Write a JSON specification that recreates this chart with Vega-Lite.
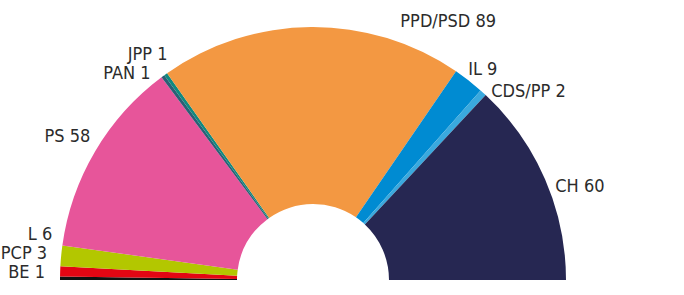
{
  "$schema": "https://vega.github.io/schema/vega-lite/v6.json",
  "autosize": {"type": "none"},
  "width": 626,
  "height": 30,
  "padding": {"left": 0, "top": 265, "right": 58, "bottom": 0},
  "background": "white",
  "config": {"view": {"stroke": null}},
  "data": {
    "values": [
      {"rank": 1, "party": "BE", "seats": 1, "label": "BE 1"},
      {"rank": 2, "party": "PCP", "seats": 3, "label": "PCP 3"},
      {"rank": 3, "party": "L", "seats": 6, "label": "L 6"},
      {"rank": 4, "party": "PS", "seats": 58, "label": "PS 58"},
      {"rank": 5, "party": "PAN", "seats": 1, "label": "PAN 1"},
      {"rank": 6, "party": "JPP", "seats": 1, "label": "JPP 1"},
      {"rank": 7, "party": "PPD/PSD", "seats": 89, "label": "PPD/PSD 89"},
      {"rank": 8, "party": "IL", "seats": 9, "label": "IL 9"},
      {"rank": 9, "party": "CDS/PP", "seats": 2, "label": "CDS/PP 2"},
      {"rank": 10, "party": "CH", "seats": 60, "label": "CH 60"}
    ]
  },
  "encoding": {
    "theta": {"field": "seats", "type": "quantitative", "stack": true, "scale": {"range": [-1.5707963, 1.5707963]}},
    "order": {"field": "rank", "type": "quantitative"}
  },
  "layer": [
    {
      "mark": {"type": "arc", "radius": 253, "radius2": 76, "stroke": null},
      "encoding": {
        "color": {
          "field": "party", "type": "nominal", "legend": null,
          "scale": {
            "domain": ["BE", "PCP", "L", "PS", "PAN", "JPP", "PPD/PSD", "IL", "CDS/PP", "CH"],
            "range": ["#111111", "#e30613", "#b3c700", "#e7559a", "#2b5f75", "#11897f", "#f39842", "#008bd2", "#3aa9de", "#262752"]
          }
        }
      }
    },
    {"mark": {"type": "text", "radius": 262, "align": "right", "baseline": "middle", "dx": -6, "dy": -5, "font": "Liberation Sans Narrow, DejaVu Sans Condensed, sans-serif", "fontSize": 18, "color": "#2b2b2b"},
     "encoding": {"text": {"condition": {"test": "datum.party === 'BE'", "field": "label"}, "value": ""}}},
    {"mark": {"type": "text", "radius": 262, "align": "right", "baseline": "middle", "dx": -4, "dy": -17, "font": "Liberation Sans Narrow, DejaVu Sans Condensed, sans-serif", "fontSize": 18, "color": "#2b2b2b"},
     "encoding": {"text": {"condition": {"test": "datum.party === 'PCP'", "field": "label"}, "value": ""}}},
    {"mark": {"type": "text", "radius": 262, "align": "right", "baseline": "middle", "dx": 0, "dy": -20, "font": "Liberation Sans Narrow, DejaVu Sans Condensed, sans-serif", "fontSize": 18, "color": "#2b2b2b"},
     "encoding": {"text": {"condition": {"test": "datum.party === 'L'", "field": "label"}, "value": ""}}},
    {"mark": {"type": "text", "radius": 262, "align": "right", "baseline": "middle", "dx": 3, "dy": -10, "font": "Liberation Sans Narrow, DejaVu Sans Condensed, sans-serif", "fontSize": 18, "color": "#2b2b2b"},
     "encoding": {"text": {"condition": {"test": "datum.party === 'PS'", "field": "label"}, "value": ""}}},
    {"mark": {"type": "text", "radius": 262, "align": "right", "baseline": "middle", "dx": -7, "dy": 5, "font": "Liberation Sans Narrow, DejaVu Sans Condensed, sans-serif", "fontSize": 18, "color": "#2b2b2b"},
     "encoding": {"text": {"condition": {"test": "datum.party === 'PAN'", "field": "label"}, "value": ""}}},
    {"mark": {"type": "text", "radius": 262, "align": "right", "baseline": "middle", "dx": 7, "dy": -12, "font": "Liberation Sans Narrow, DejaVu Sans Condensed, sans-serif", "fontSize": 18, "color": "#2b2b2b"},
     "encoding": {"text": {"condition": {"test": "datum.party === 'JPP'", "field": "label"}, "value": ""}}},
    {"mark": {"type": "text", "radius": 262, "align": "center", "baseline": "middle", "dx": 137, "dy": 4, "font": "Liberation Sans Narrow, DejaVu Sans Condensed, sans-serif", "fontSize": 18, "color": "#2b2b2b"},
     "encoding": {"text": {"condition": {"test": "datum.party === 'PPD/PSD'", "field": "label"}, "value": ""}}},
    {"mark": {"type": "text", "radius": 262, "align": "left", "baseline": "middle", "dx": -6, "dy": -3, "font": "Liberation Sans Narrow, DejaVu Sans Condensed, sans-serif", "fontSize": 18, "color": "#2b2b2b"},
     "encoding": {"text": {"condition": {"test": "datum.party === 'IL'", "field": "label"}, "value": ""}}},
    {"mark": {"type": "text", "radius": 262, "align": "left", "baseline": "middle", "dx": 2, "dy": 6, "font": "Liberation Sans Narrow, DejaVu Sans Condensed, sans-serif", "fontSize": 18, "color": "#2b2b2b"},
     "encoding": {"text": {"condition": {"test": "datum.party === 'CDS/PP'", "field": "label"}, "value": ""}}},
    {"mark": {"type": "text", "radius": 262, "align": "left", "baseline": "middle", "dx": 2, "dy": 11, "font": "Liberation Sans Narrow, DejaVu Sans Condensed, sans-serif", "fontSize": 18, "color": "#2b2b2b"},
     "encoding": {"text": {"condition": {"test": "datum.party === 'CH'", "field": "label"}, "value": ""}}}
  ]
}
